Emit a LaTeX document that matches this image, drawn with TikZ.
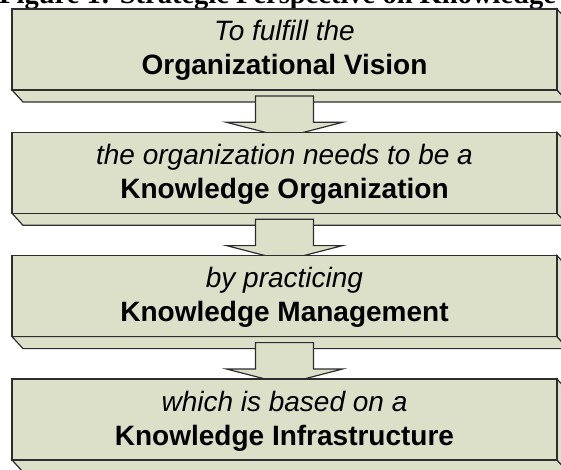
\documentclass[tikz,border=0pt]{standalone}
\usepackage{fontspec}
\setmainfont{Liberation Sans}
\newfontfamily\captionserif{Liberation Serif}
\usetikzlibrary{calc}

\definecolor{khaki}{RGB}{221,224,201}
\definecolor{edge}{RGB}{45,45,45}

\tikzset{
  frame/.style={minimum width=545pt, minimum height=81pt, inner sep=0pt, outer sep=0pt},
  face/.style={frame, draw=edge, fill=khaki, line width=1.2pt},
  slab/.style={draw=edge, fill=khaki, line width=1.2pt, line join=miter},
  blockarrow/.style={draw=edge, fill=khaki, line width=1.2pt, line join=miter},
  leadline/.style={font=\fontsize{28}{34}\selectfont\itshape, anchor=base, inner sep=0pt},
  keyline/.style={font=\fontsize{28}{34}\selectfont\bfseries, anchor=base, inner sep=0pt},
  caption/.style={font=\fontsize{28.5}{34}\selectfont\captionserif\bfseries, anchor=base west, inner sep=0pt}
}

% a box with its lower and right faces shown in depth, on a placed frame
\newcommand{\stepslab}[3]{%
  \draw[slab] (#1.south west) -- ++(11,12) -- ++(545,0) -- (#1.south east) -- cycle;
  \draw[slab] (#1.north east) -- ++(11,12) -- ++(0,81) -- (#1.south east) -- cycle;
  \node[face] at (#1.center) {};
  \node[leadline] (#1a) at ($(#1.north)+(0,32)$) {#2};
  \node[keyline] (#1b) at ($(#1.north)+(0,66)$) {#3};
}

% block arrow from the slab above to the one below
\newcommand{\slabarrow}[2]{%
  \draw[blockarrow] ($(#1.south)+(-29,6)$) -- ($(#2.north)+(-29,-10)$)
    -- ($(#2.north)+(-58,-10)$) -- ($(#2.north)+(0,5)$)
    -- ($(#2.north)+(58,-10)$) -- ($(#2.north)+(29,-10)$)
    -- ($(#1.south)+(29,6)$) -- cycle;
}

\begin{document}
\begin{tikzpicture}[x=1pt, y=-1pt]
  \useasboundingbox (0,0) rectangle (561,470);
  \clip (0,0) rectangle (561,470);

  \node[caption] (cap) at (-1,3.5) {Figure 1: Strategic Perspective on Knowledge Management};

  % frames of the four steps
  \path node[frame] (b1) at (284.5,49.5) {}
        node[frame] (b2) at (284.5,172.8) {}
        node[frame] (b3) at (284.5,296.1) {}
        node[frame] (b4) at (284.5,419.5) {};

  \stepslab{b1}{To fulfill the}{Organizational Vision}
  \slabarrow{b1}{b2}
  \stepslab{b2}{the organization needs to be a}{Knowledge Organization}
  \slabarrow{b2}{b3}
  \stepslab{b3}{by practicing}{Knowledge Management}
  \slabarrow{b3}{b4}
  \stepslab{b4}{which is based on a}{Knowledge Infrastructure}
\end{tikzpicture}
\end{document}
